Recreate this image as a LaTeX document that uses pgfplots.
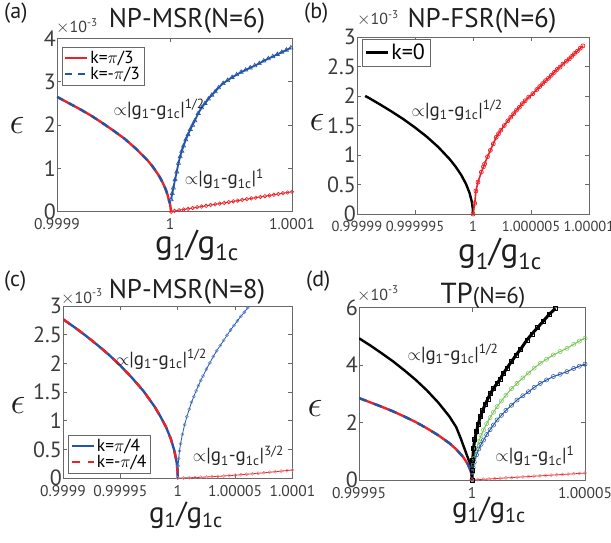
\documentclass[border=0pt]{standalone}
\usepackage{fontspec}
\setmainfont{PT Sans}
\usepackage{pgfplots}
\pgfplotsset{compat=1.18}

\definecolor{mred}{RGB}{236,34,40}
\definecolor{mblue}{RGB}{36,84,168}
\definecolor{mgreen}{RGB}{118,196,86}
\definecolor{lred}{RGB}{242,120,125}
\definecolor{lblue}{RGB}{90,130,200}
\definecolor{txtgray}{RGB}{60,60,60}
\definecolor{axgray}{RGB}{105,105,105}

\newcommand{\prop}[1]{$\propto$|g\textsubscript{1}-g\textsubscript{1c}|\textsuperscript{#1}}
\newcommand{\glab}{g\textsubscript{1}/g\textsubscript{1c}}

\tikzset{ann/.style={font=\fontsize{19}{19}\selectfont, anchor=base west, inner sep=0pt, black!85},
  eps/.style={font=\fontsize{24.88}{25}\selectfont, scale=1.5}}
\pgfplotsset{
  panel/.style={
    scale only axis, anchor=south west,
    axis line style={axgray, line width=0.6pt},
    tick style={axgray, line width=0.6pt},
    major tick length=4pt, tick align=inside, tick pos=both,
    /pgf/number format/assume math mode=true,
    yticklabel style={font=\fontsize{22}{22}\selectfont, txtgray, inner sep=1pt},
    xticklabel style={font=\fontsize{15.5}{15.5}\selectfont, txtgray, yshift=-6pt, inner sep=1pt},
    scaled y ticks=false,
    legend cell align=left,
    legend image code/.code={\draw[#1] (0pt,0pt) -- (22pt,0pt);},
    legend style={draw=axgray, line width=0.6pt, font=\fontsize{17.5}{17.5}\selectfont,
      inner sep=2pt, row sep=-2pt},
  },
}

\begin{document}
\begin{tikzpicture}[x=1pt,y=1pt]
\useasboundingbox (0,0) rectangle (611,542);

% ---------------- (a)
\begin{axis}[panel, at={(57pt,330.3pt)}, width=235pt, height=173.4pt,
  xmin=-1, xmax=1.08, ymin=0, ymax=4,
  xtick={-1,0,1.08}, xticklabels={0.9999,1,1.0001}, ytick={0,1,2,3,4},
  legend style={at={(0.02,0.952)}, anchor=north west}]
\addplot[mred, line width=2.4pt] coordinates {
 (-1,2.65) (-0.9,2.51) (-0.8,2.37) (-0.7,2.22) (-0.6,2.05) (-0.5,1.87)
 (-0.4,1.68) (-0.3,1.45) (-0.2,1.19) (-0.15,1.03) (-0.1,0.84) (-0.07,0.70)
 (-0.04,0.53) (-0.02,0.38) (-0.01,0.27) (0,0.19) (0.01,0)};
\addlegendentry{k=$\pi$/3}
\addplot[mblue, line width=2.4pt, dash pattern=on 7pt off 6pt] coordinates {
 (-1,2.65) (-0.9,2.51) (-0.8,2.37) (-0.7,2.22) (-0.6,2.05) (-0.5,1.87)
 (-0.4,1.68) (-0.3,1.45) (-0.2,1.19) (-0.15,1.03) (-0.1,0.84) (-0.07,0.70)
 (-0.04,0.53) (-0.02,0.38) (-0.01,0.27) (0,0.19)};
\addlegendentry{k=-$\pi$/3}
\addplot[forget plot, mblue, line width=1.8pt, mark=triangle, mark size=2.4pt,
  mark options={line width=0.6pt}] coordinates {
 (0.01,0.28) (0.02,0.42) (0.03,0.55) (0.045,0.74) (0.06,0.92) (0.075,1.12)
 (0.09,1.27) (0.105,1.40) (0.12,1.52) (0.14,1.66) (0.16,1.78) (0.18,1.90)
 (0.20,2.00) (0.22,2.10) (0.25,2.27) (0.28,2.40) (0.31,2.50) (0.34,2.60)
 (0.37,2.69) (0.40,2.77) (0.43,2.86) (0.47,2.96) (0.51,3.03) (0.55,3.10)
 (0.59,3.16) (0.63,3.22) (0.67,3.27) (0.71,3.32) (0.75,3.37) (0.79,3.42)
 (0.83,3.48) (0.87,3.53) (0.91,3.58) (0.95,3.63) (0.99,3.68) (1.03,3.73) (1.07,3.78)};
\addplot[forget plot, mred, line width=0.8pt, mark=o, mark size=1.8pt,
  mark options={line width=0.6pt}] coordinates {
 (0.01,0) (0.04,0.017) (0.08,0.034) (0.12,0.051) (0.16,0.068) (0.20,0.085)
 (0.24,0.102) (0.28,0.119) (0.32,0.136) (0.36,0.153) (0.40,0.170) (0.44,0.187)
 (0.48,0.204) (0.52,0.222) (0.56,0.239) (0.60,0.256) (0.64,0.273) (0.68,0.290)
 (0.72,0.307) (0.76,0.324) (0.80,0.341) (0.84,0.358) (0.88,0.375) (0.92,0.392)
 (0.96,0.409) (1.00,0.426) (1.04,0.443) (1.08,0.46)};
\node[ann] at (axis cs:-0.5,2.23) {\prop{1/2}};
\node[ann] at (axis cs:0.13,0.62) {\prop{1}};
\end{axis}

% ---------------- (b)
\begin{axis}[panel, at={(357pt,328pt)}, width=232pt, height=177pt,
  xmin=-10, xmax=10, ymin=0, ymax=3,
  xtick={-10,-5,0,5,10}, xticklabels={0.99999,0.999995,1,1.000005,1.00001},
  xticklabel style={font=\fontsize{14.5}{14.5}\selectfont},
  ytick={0,0.5,1,1.5,2,2.5,3},
  legend style={at={(0.02,0.99)}, anchor=north west, font=\fontsize{22}{22}\selectfont, inner sep=3pt}]
\addplot[black, line width=2.4pt] coordinates {
 (-9.3,2.0) (-9,1.97) (-8,1.855) (-7,1.735) (-6,1.607) (-5,1.466) (-4,1.312)
 (-3,1.136) (-2,0.927) (-1.5,0.803) (-1,0.656) (-0.6,0.508) (-0.3,0.359)
 (-0.1,0.207) (-0.02,0.093) (0,0)};
\addlegendentry{k=0}
\addplot[forget plot, mred, line width=1.6pt, mark=o, mark size=2pt,
  mark options={line width=0.7pt}] coordinates {
 (0,0) (0.15,0.18) (0.25,0.39) (0.43,0.54) (0.72,0.71) (0.9,0.80) (1.0,0.85)
 (1.25,0.97) (1.5,1.08) (1.75,1.19) (2.0,1.30) (2.2,1.36) (2.4,1.42) (2.7,1.50)
 (3.0,1.58) (3.25,1.64) (3.5,1.70) (3.75,1.76) (4.0,1.81) (4.25,1.87) (4.5,1.92)
 (4.8,1.98) (5.16,2.04) (5.5,2.11) (5.75,2.16) (6.0,2.21) (6.25,2.26) (6.5,2.30)
 (6.75,2.35) (7.0,2.40) (7.25,2.45) (7.5,2.49) (7.75,2.54) (8.05,2.59) (8.3,2.63)
 (8.5,2.67) (8.75,2.72) (9.0,2.76) (9.25,2.81) (9.48,2.85)};
\node[ann] at (axis cs:-5.3,1.66) {\prop{1/2}};
\end{axis}

% ---------------- (c)
\begin{axis}[panel, at={(63pt,64pt)}, width=229.5pt, height=172pt,
  xmin=-1, xmax=1, ymin=0, ymax=3,
  xtick={-1,-0.5,0,0.5,1}, xticklabels={0.9999,0.99995,1,1.00005,1.0001},
  ytick={0,0.5,1,1.5,2,2.5,3},
  legend style={at={(0.023,0.027)}, anchor=south west}]
\addplot[mblue, line width=2.4pt] coordinates {
 (-1,2.77) (-0.9,2.63) (-0.8,2.48) (-0.7,2.32) (-0.6,2.15) (-0.5,1.96)
 (-0.4,1.75) (-0.3,1.52) (-0.2,1.24) (-0.15,1.07) (-0.1,0.88) (-0.06,0.68)
 (-0.03,0.48) (-0.01,0.28) (-0.003,0.15) (0,0)};
\addlegendentry{k=$\pi$/4}
\addplot[mred, line width=2.4pt, dash pattern=on 8pt off 8pt] coordinates {
 (-1,2.77) (-0.9,2.63) (-0.8,2.48) (-0.7,2.32) (-0.6,2.15) (-0.5,1.96)
 (-0.4,1.75) (-0.3,1.52) (-0.2,1.24) (-0.15,1.07) (-0.1,0.88) (-0.06,0.68)
 (-0.03,0.48) (-0.01,0.28) (-0.003,0.15) (0,0)};
\addlegendentry{k=-$\pi$/4}
\addplot[forget plot, mblue, line width=0.8pt, mark=o, mark size=1.6pt,
  mark options={lblue, line width=0.4pt}] coordinates {
 (0,0) (0.003,0.21) (0.008,0.34) (0.015,0.47) (0.025,0.60) (0.04,0.76) (0.06,0.93)
 (0.08,1.07) (0.1,1.20) (0.12,1.32) (0.14,1.42) (0.16,1.52) (0.18,1.61) (0.2,1.70)
 (0.22,1.78) (0.25,1.90) (0.28,2.01) (0.31,2.12) (0.34,2.22) (0.37,2.31) (0.4,2.40)
 (0.43,2.49) (0.46,2.58) (0.49,2.66) (0.52,2.74) (0.55,2.82) (0.58,2.89)
 (0.61,2.97) (0.64,3.04)};
\addplot[forget plot, mred, line width=0.8pt, mark=o, mark size=1.6pt,
  mark options={lred, line width=0.4pt}] coordinates {
 (0,0) (0.05,0.0016) (0.1,0.0044) (0.15,0.0081) (0.2,0.0125) (0.25,0.0175)
 (0.3,0.023) (0.35,0.029) (0.4,0.035) (0.45,0.042) (0.5,0.049) (0.55,0.057)
 (0.6,0.065) (0.65,0.073) (0.7,0.082) (0.75,0.091) (0.8,0.100) (0.85,0.110)
 (0.9,0.120) (0.95,0.130) (1.0,0.140)};
\node[ann] at (axis cs:-0.54,1.97) {\prop{1/2}};
\node[ann] at (axis cs:0.13,0.28) {\prop{3/2}};
\end{axis}

% ---------------- (d)
\begin{axis}[panel, at={(359pt,62pt)}, width=226pt, height=172.5pt,
  xmin=-5, xmax=5, ymin=0, ymax=6,
  xtick={-5,0,5}, xticklabels={0.99995,1,1.00005}, ytick={0,2,4,6}]
\addplot[black, line width=2.4pt] coordinates {
 (-5,4.93) (-4.5,4.68) (-4,4.41) (-3.5,4.13) (-3,3.82) (-2.5,3.49) (-2,3.12)
 (-1.5,2.70) (-1,2.21) (-0.7,1.84) (-0.5,1.45) (-0.22,0.85) (-0.1,0.60)
 (-0.03,0.33) (0,0)};
\addplot[mred, line width=2.4pt] coordinates {
 (-5,2.85) (-4.5,2.70) (-4,2.55) (-3.5,2.39) (-3,2.21) (-2.5,2.02) (-2,1.80)
 (-1.5,1.56) (-1,1.28) (-0.7,1.07) (-0.4,0.81) (-0.2,0.57) (-0.1,0.40)
 (-0.03,0.22) (0,0)};
\addplot[mblue, line width=2.4pt, dash pattern=on 8pt off 8pt] coordinates {
 (-5,2.85) (-4.5,2.70) (-4,2.55) (-3.5,2.39) (-3,2.21) (-2.5,2.02) (-2,1.80)
 (-1.5,1.56) (-1,1.28) (-0.7,1.07) (-0.4,0.81) (-0.2,0.57) (-0.1,0.40)
 (-0.03,0.22) (0,0)};
\addplot[mgreen, line width=1pt, mark=o, mark size=2.1pt,
  mark options={line width=0.5pt}] coordinates {
 (0,0) (0.02,0.30) (0.05,0.52) (0.1,0.76) (0.2,1.09) (0.3,1.34) (0.4,1.55)
 (0.51,1.74) (0.65,1.96) (0.8,2.17) (0.95,2.36) (1.11,2.55) (1.3,2.75) (1.5,2.95)
 (1.75,3.18) (1.99,3.36) (2.25,3.55) (2.5,3.72) (2.75,3.89) (3.02,4.06) (3.3,4.20)
 (3.6,4.35) (3.9,4.47) (4.2,4.58) (4.5,4.72) (4.75,4.83) (5.0,4.93)};
\addplot[mblue, line width=1pt, mark=o, mark size=2.1pt,
  mark options={line width=0.5pt}] coordinates {
 (0,0) (0.02,0.26) (0.05,0.43) (0.1,0.62) (0.2,0.88) (0.3,1.08) (0.4,1.24)
 (0.51,1.39) (0.65,1.58) (0.8,1.75) (0.95,1.91) (1.11,2.09) (1.3,2.25) (1.5,2.42)
 (1.75,2.60) (1.99,2.78) (2.25,2.93) (2.5,3.07) (2.75,3.22) (3.02,3.36) (3.3,3.48)
 (3.6,3.60) (3.9,3.68) (4.2,3.77) (4.5,3.88) (4.75,3.96) (5.0,4.03)};
\addplot[black, line width=3pt, mark=square, mark size=2pt,
  mark options={line width=0.6pt}] coordinates {
 (0,0) (0.01,0.35) (0.03,0.70) (0.07,1.12) (0.12,1.40) (0.2,1.70) (0.28,1.95)
 (0.37,2.20) (0.47,2.42) (0.58,2.62) (0.7,2.82) (0.81,3.00) (0.95,3.18) (1.1,3.35)
 (1.25,3.52) (1.4,3.72) (1.55,3.90) (1.75,4.12) (1.95,4.35) (2.15,4.55) (2.43,4.87)
 (2.65,5.08) (2.9,5.30) (3.15,5.52) (3.4,5.75) (3.69,5.97)};
\addplot[mred, line width=0.8pt, mark=o, mark size=1.6pt,
  mark options={lred, line width=0.4pt}] coordinates {
 (0,0) (0.25,0.012) (0.5,0.024) (0.75,0.036) (1.0,0.048) (1.25,0.060) (1.5,0.072)
 (1.75,0.084) (2.0,0.096) (2.25,0.108) (2.5,0.120) (2.75,0.132) (3.0,0.144)
 (3.25,0.156) (3.5,0.168) (3.75,0.180) (4.0,0.192) (4.25,0.204) (4.5,0.216)
 (4.75,0.228) (5.0,0.240)};
\node[ann] at (axis cs:-2.86,4.17) {\prop{1/2}};
\node[ann] at (axis cs:1.03,0.64) {\prop{1}};
\end{axis}

% titles, panel letters, scale factors and axis labels
\begin{scope}[every node/.style={inner sep=0pt, black!88}]
\node[anchor=base, font=\fontsize{27}{27}\selectfont] at (187,514) {NP-MSR(N=6)};
\node[anchor=base, font=\fontsize{27}{27}\selectfont] at (482,514) {NP-FSR(N=6)};
\node[anchor=base, font=\fontsize{27}{27}\selectfont] at (187,244) {NP-MSR(N=8)};
\node[anchor=base, font=\fontsize{29}{29}\selectfont] at (483,239) {TP{\fontsize{23}{23}\selectfont(N=6)}};
\node[anchor=base west, font=\fontsize{22}{22}\selectfont] at (4,523) {(a)};
\node[anchor=base west, font=\fontsize{22}{22}\selectfont] at (304,523) {(b)};
\node[anchor=base west, font=\fontsize{22}{22}\selectfont] at (4,255) {(c)};
\node[anchor=base west, font=\fontsize{22}{22}\selectfont] at (306,255) {(d)};
\node[anchor=base west, font=\fontsize{16}{16}\selectfont, txtgray] at (56,509) {$\times$10\textsuperscript{-3}};
\node[anchor=base west, font=\fontsize{16}{16}\selectfont, txtgray] at (357,517) {$\times$10\textsuperscript{-3}};
\node[anchor=base west, font=\fontsize{16}{16}\selectfont, txtgray] at (61,239) {$\times$10\textsuperscript{-3}};
\node[anchor=base west, font=\fontsize{16}{16}\selectfont, txtgray] at (357,242) {$\times$10\textsuperscript{-3}};
\node[eps] at (17,417) {$\epsilon$};
\node[eps] at (317,420) {$\epsilon$};
\node[eps] at (18,137) {$\epsilon$};
\node[eps] at (315,134) {$\epsilon$};
\node[anchor=base, font=\fontsize{33}{33}\selectfont] at (197,289) {\glab};
\node[anchor=base, font=\fontsize{33}{33}\selectfont] at (500,280) {\glab};
\node[anchor=base, font=\fontsize{29}{29}\selectfont] at (186,20) {\glab};
\node[anchor=base, font=\fontsize{29}{29}\selectfont] at (489,25) {\glab};
\end{scope}
\end{tikzpicture}
\end{document}
